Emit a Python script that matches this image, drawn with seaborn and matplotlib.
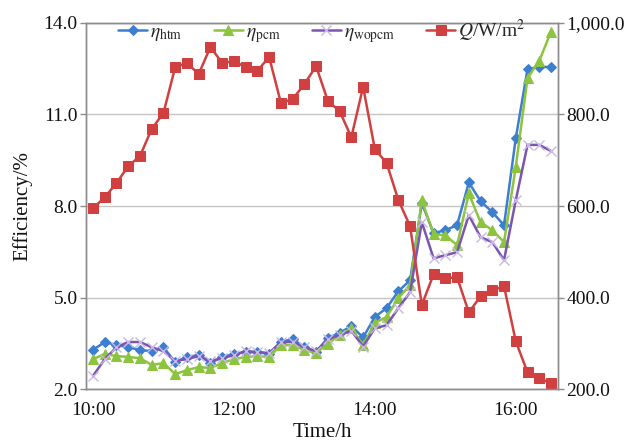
import matplotlib
matplotlib.use("Agg")
import matplotlib.pyplot as plt
import pandas as pd
import seaborn as sns
from matplotlib.ticker import FuncFormatter

# ---- data ----
times = ["10:00", "10:10", "10:20", "10:30", "10:40", "10:50",
         "11:00", "11:10", "11:20", "11:30", "11:40", "11:50",
         "12:00", "12:10", "12:20", "12:30", "12:40", "12:50",
         "13:00", "13:10", "13:20", "13:30", "13:40", "13:50",
         "14:00", "14:10", "14:20", "14:30", "14:40", "14:50",
         "15:00", "15:10", "15:20", "15:30", "15:40", "15:50",
         "16:00", "16:10", "16:20", "16:30"]

eta_htm = [3.29, 3.55, 3.45, 3.38, 3.29, 3.25, 3.38, 2.89, 3.06, 3.12,
           2.86, 3.06, 3.16, 3.22, 3.22, 3.16, 3.55, 3.65, 3.38, 3.22,
           3.68, 3.85, 4.07, 3.70, 4.37, 4.66, 5.21, 5.57, 8.10, 7.11,
           7.21, 7.37, 8.77, 8.16, 7.80, 7.37, 10.22, 12.48, 12.55, 12.55]

eta_pcm = [2.99, 3.16, 3.09, 3.06, 3.02, 2.80, 2.86, 2.50, 2.63, 2.73,
           2.70, 2.86, 2.99, 3.06, 3.09, 3.06, 3.45, 3.45, 3.29, 3.19,
           3.50, 3.78, 4.00, 3.45, 4.17, 4.37, 4.99, 5.41, 8.19, 7.08,
           7.04, 6.72, 8.41, 7.47, 7.21, 6.82, 9.28, 12.19, 12.75, 13.70]

eta_wopcm = [2.44, 2.99, 3.38, 3.55, 3.55, 3.38, 3.25, 2.93, 2.99, 3.09,
             2.93, 3.02, 3.12, 3.25, 3.22, 3.19, 3.55, 3.55, 3.38, 3.25,
             3.65, 3.78, 3.92, 3.40, 4.00, 4.10, 4.66, 5.18, 7.47, 6.29,
             6.39, 6.49, 7.70, 6.98, 6.82, 6.23, 8.19, 10.00, 10.00, 9.80]

q_irr = [595, 619, 650, 687, 709, 768, 803, 903, 912, 888,
         947, 912, 916, 903, 895, 925, 825, 833, 866, 905,
         829, 807, 750, 860, 724, 694, 613, 556, 384, 451,
         442, 445, 368, 403, 416, 425, 305, 237, 225, 213]

x_tick_labels = ["10:00", "12:00", "14:00", "16:00"]
left_ticks = [2.0, 5.0, 8.0, 11.0, 14.0]
right_ticks = [200.0, 400.0, 600.0, 800.0, 1000.0]

labels = [r"$\eta_{\rm htm}$", r"$\eta_{\rm pcm}$", r"$\eta_{\rm wopcm}$", r"$Q$/W/m$^2$"]

# ---- style ----
sns.set_theme(style="white")
plt.rcParams["font.family"] = ["Liberation Serif", "DejaVu Serif"]
plt.rcParams["mathtext.fontset"] = "stix"

def to_min(t):
    h, m = t.split(":")
    return int(h) * 60 + int(m) - 600

df = pd.DataFrame({
    "minute": [to_min(t) for t in times],
    "htm": eta_htm, "pcm": eta_pcm, "wopcm": eta_wopcm, "Q": q_irr,
})

blue = "#3D7ED0"
green = "#8CC43F"
purple = "#7A56B0"
red = "#D04040"
grid_c = "#C4C4C4"
spine_c = "#8C8C8C"

fig = plt.figure(figsize=(6.32, 4.44), dpi=100)
ax = fig.add_axes([0.136, 0.123, 0.747, 0.826])
ax2 = ax.twinx()

sns.lineplot(data=df, x="minute", y="htm", ax=ax, color=blue, lw=1.8,
             marker="D", markersize=5.5, markeredgecolor=blue, label=labels[0])
sns.lineplot(data=df, x="minute", y="pcm", ax=ax, color=green, lw=1.8,
             marker="^", markersize=7, markeredgecolor=green, label=labels[1])
sns.lineplot(data=df, x="minute", y="wopcm", ax=ax, color=purple, lw=1.8,
             marker="x", markersize=7, markeredgecolor="#C9B8E6", markeredgewidth=1.0,
             label=labels[2])
sns.lineplot(data=df, x="minute", y="Q", ax=ax2, color=red, lw=1.8,
             marker="s", markersize=7.5, markeredgecolor=red, label=labels[3])

for a in (ax, ax2):
    lg = a.get_legend()
    if lg is not None:
        lg.remove()

ax.set_xlim(-6, 396)
ax.set_ylim(2, 14)
ax2.set_ylim(200, 1000)
ax.set_xticks([to_min(t) for t in x_tick_labels])
ax.set_xticklabels(x_tick_labels)
ax.set_yticks(left_ticks)
ax2.set_yticks(right_ticks)
ax.yaxis.set_major_formatter(FuncFormatter(lambda v, p: f"{v:.1f}"))
ax2.yaxis.set_major_formatter(FuncFormatter(lambda v, p: f"{v:,.1f}"))

ax.grid(axis="y", color=grid_c, lw=1.0)
ax.grid(axis="x", visible=False)
ax2.grid(False)
ax.set_axisbelow(True)

for a in (ax, ax2):
    for s in a.spines.values():
        s.set_color(spine_c)
        s.set_linewidth(1.0)

ax.tick_params(axis="y", which="major", direction="out", length=4, width=1,
               color=spine_c, labelsize=14, pad=2, left=True)
ax2.tick_params(axis="y", which="major", direction="out", length=4, width=1,
                color=spine_c, labelsize=14, pad=2, right=True)
ax.tick_params(axis="x", length=0, labelsize=14, pad=9)
for lab in ax.get_yticklabels() + ax2.get_yticklabels() + ax.get_xticklabels():
    lab.set_color("#111111")

ax.set_xlabel("Time/h", fontsize=15, labelpad=3, color="#111111")
ax.set_ylabel("Efficiency/%", fontsize=15, labelpad=8, color="#111111")
ax2.set_ylabel("")

h1, l1 = ax.get_legend_handles_labels()
h2, l2 = ax2.get_legend_handles_labels()
ax2.legend(h1 + h2, l1 + l2, loc="upper center", bbox_to_anchor=(0.5, 1.045),
           ncol=4, frameon=False, fontsize=14, handlelength=1.5,
           columnspacing=1.6, handletextpad=0.15, borderaxespad=0.2)

fig.savefig("out.png", dpi=100)
